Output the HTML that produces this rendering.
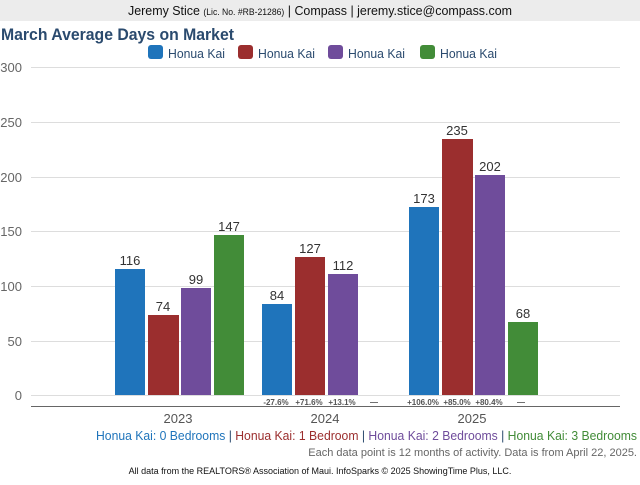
<!DOCTYPE html>
<html><head><meta charset="utf-8"><style>
body{margin:0;width:640px;height:480px;background:#fff;overflow:hidden;font-family:"Liberation Sans",sans-serif}
</style></head><body>
<svg width="640" height="480" xmlns="http://www.w3.org/2000/svg" font-family="Liberation Sans, sans-serif">
<rect x="0" y="0" width="640" height="21" fill="#ececec"/>
<text x="128" y="15" textLength="384" lengthAdjust="spacingAndGlyphs" font-size="13" fill="#111">Jeremy Stice <tspan font-size="9">(Lic. No. #RB-21286)</tspan> | Compass | jeremy.stice@compass.com</text>
<text x="1" y="40" textLength="233" lengthAdjust="spacingAndGlyphs" font-size="17" font-weight="bold" fill="#2a4a6e">March Average Days on Market</text>
<g font-size="13" fill="#2a4a6e">
<rect x="148" y="45" width="15" height="14" rx="3" fill="#1f74bb"/><text x="168" y="58" textLength="57" lengthAdjust="spacingAndGlyphs">Honua Kai</text>
<rect x="238" y="45" width="15" height="14" rx="3" fill="#9b2e2e"/><text x="258" y="58" textLength="57" lengthAdjust="spacingAndGlyphs">Honua Kai</text>
<rect x="328" y="45" width="15" height="14" rx="3" fill="#6f4c9b"/><text x="348" y="58" textLength="57" lengthAdjust="spacingAndGlyphs">Honua Kai</text>
<rect x="420" y="45" width="15" height="14" rx="3" fill="#428c38"/><text x="440" y="58" textLength="57" lengthAdjust="spacingAndGlyphs">Honua Kai</text>
</g>
<g stroke="#ddd" stroke-width="1">
<line x1="31" x2="620" y1="67.5" y2="67.5"/><line x1="31" x2="620" y1="122.5" y2="122.5"/>
<line x1="31" x2="620" y1="177.5" y2="177.5"/><line x1="31" x2="620" y1="231.5" y2="231.5"/>
<line x1="31" x2="620" y1="286.5" y2="286.5"/><line x1="31" x2="620" y1="341.5" y2="341.5"/>
<line x1="31" x2="620" y1="395.5" y2="395.5"/>
</g>
<line x1="31" x2="620" y1="406.5" y2="406.5" stroke="#666"/>
<g font-size="13" fill="#666" text-anchor="end">
<text x="22" y="72">300</text><text x="22" y="127">250</text><text x="22" y="182">200</text>
<text x="22" y="236">150</text><text x="22" y="291">100</text><text x="22" y="346">50</text><text x="22" y="400">0</text>
</g>
<g>
<rect x="115" y="269" width="30" height="126" fill="#1f74bb"/>
<rect x="148" y="315" width="31" height="80" fill="#9b2e2e"/>
<rect x="181" y="288" width="30" height="107" fill="#6f4c9b"/>
<rect x="214" y="235" width="30" height="160" fill="#428c38"/>
<rect x="262" y="304" width="30" height="91" fill="#1f74bb"/>
<rect x="295" y="257" width="30" height="138" fill="#9b2e2e"/>
<rect x="328" y="274" width="30" height="121" fill="#6f4c9b"/>
<rect x="409" y="207" width="30" height="188" fill="#1f74bb"/>
<rect x="442" y="139" width="31" height="256" fill="#9b2e2e"/>
<rect x="475" y="175" width="30" height="220" fill="#6f4c9b"/>
<rect x="508" y="322" width="30" height="73" fill="#428c38"/>
</g>
<g font-size="13" fill="#333" text-anchor="middle">
<text x="130" y="265">116</text><text x="163" y="311">74</text><text x="196" y="284">99</text><text x="229" y="231">147</text>
<text x="277" y="300">84</text><text x="310" y="253">127</text><text x="343" y="270">112</text>
<text x="424" y="203">173</text><text x="457" y="135">235</text><text x="490" y="171">202</text><text x="523" y="318">68</text>
</g>
<g font-size="8" font-weight="bold" fill="#555" text-anchor="middle">
<text x="276" y="405">-27.6%</text><text x="309" y="405">+71.6%</text><text x="342" y="405">+13.1%</text><text x="374" y="405">—</text>
<text x="423" y="405">+106.0%</text><text x="457" y="405">+85.0%</text><text x="489" y="405">+80.4%</text><text x="521" y="405">—</text>
</g>
<g font-size="13" fill="#555" text-anchor="middle">
<text x="178" y="423">2023</text><text x="325" y="423">2024</text><text x="472" y="423">2025</text>
</g>
<text x="96" y="440" textLength="541" lengthAdjust="spacingAndGlyphs" font-size="13"><tspan fill="#1f74bb">Honua Kai: 0 Bedrooms</tspan><tspan fill="#2a4a6e"> | </tspan><tspan fill="#9b2e2e">Honua Kai: 1 Bedroom</tspan><tspan fill="#2a4a6e"> | </tspan><tspan fill="#6f4c9b">Honua Kai: 2 Bedrooms</tspan><tspan fill="#2a4a6e"> | </tspan><tspan fill="#428c38">Honua Kai: 3 Bedrooms</tspan></text>
<text x="637" y="456" text-anchor="end" font-size="11" fill="#666">Each data point is 12 months of activity. Data is from April 22, 2025.</text>
<text x="320" y="474" text-anchor="middle" font-size="9" fill="#111">All data from the REALTORS® Association of Maui. InfoSparks © 2025 ShowingTime Plus, LLC.</text>
</svg>
</body></html>
